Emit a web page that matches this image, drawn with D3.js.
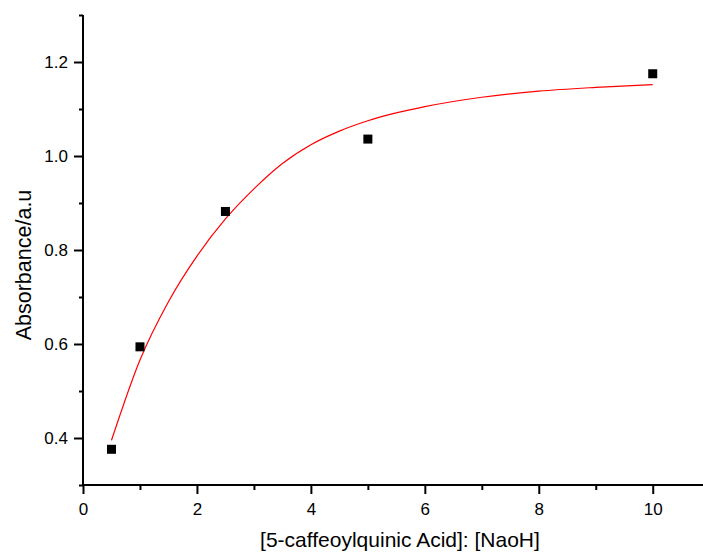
<!DOCTYPE html>
<html>
<head>
  <meta charset="utf-8">
  <style>
  body { margin: 0; background: #fff; }
  svg text { font-family: "Liberation Sans", Arial, sans-serif; fill: #000; }
  .fit { fill: none; stroke: #ff0000; stroke-width: 1.2px; }
  </style>
  <script src="https://d3js.org/d3.v7.min.js"></script>
</head>
<body>
<svg id="chart"></svg>
<script>
// measured points
var ratio = [0.5, 1, 2.5, 5, 10];
var absorbance = [0.376, 0.594, 0.882, 1.036, 1.175];

// fitted curve
var fitX = [0.5, 1, 1.5, 2, 2.5, 3, 3.5, 4, 4.5, 5, 6, 7, 8, 9, 10];
var fitY = [0.395, 0.566, 0.69, 0.787, 0.866, 0.93, 0.984, 1.024, 1.053, 1.075, 1.105, 1.125, 1.138, 1.146, 1.152];

var xMajor = [0, 2, 4, 6, 8, 10];
var xMinor = [1, 3, 5, 7, 9];
var yMajor = [0.4, 0.6, 0.8, 1.0, 1.2];
var yMinor = [0.3, 0.5, 0.7, 0.9, 1.1, 1.3];

var W = 703, H = 553;

var svg = d3.select("#chart")
    .attr("width", W)
    .attr("height", H);

var x = d3.scaleLinear().domain([0, 11]).range([83, 709.7]);
var y = d3.scaleLinear().domain([0.3, 1.3]).range([485, 15]);

// fit line first, then markers on top
var line = d3.line()
    .x(function(d) { return x(d[0]); })
    .y(function(d) { return y(d[1]); })
    .curve(d3.curveMonotoneX);

svg.append("path")
    .datum(fitX.map(function(v, i) { return [v, fitY[i]]; }))
    .attr("class", "fit")
    .attr("d", line);

var sq = 9;
svg.selectAll("rect.pt")
    .data(ratio)
  .enter().append("rect")
    .attr("class", "pt")
    .attr("x", function(d) { return x(d) - sq / 2; })
    .attr("y", function(d, i) { return y(absorbance[i]) - sq / 2; })
    .attr("width", sq)
    .attr("height", sq)
    .attr("fill", "#000");

// X axis
var xAxis = svg.append("g")
    .attr("transform", "translate(0," + y(0.3) + ")")
    .call(d3.axisBottom(x).tickValues(xMajor).tickSize(9).tickPadding(9)
      .tickFormat(d3.format("d")));
xAxis.append("g")
    .call(d3.axisBottom(x).tickValues(xMinor).tickSize(5).tickFormat(""));

// Y axis
var yAxis = svg.append("g")
    .attr("transform", "translate(" + x(0) + ",0)")
    .call(d3.axisLeft(y).tickValues(yMajor).tickSize(9).tickPadding(6)
      .tickFormat(d3.format(".1f")));
yAxis.append("g")
    .call(d3.axisLeft(y).tickValues(yMinor).tickSize(4).tickFormat(""));

svg.selectAll(".domain").attr("stroke", "#000").attr("stroke-width", 2);
svg.selectAll(".tick line").attr("stroke", "#000").attr("stroke-width", 2);
svg.selectAll(".tick text").style("font-size", "17px").attr("fill", "#000");
// plain axis lines without end caps
xAxis.selectAll(".domain").attr("d", "M" + (x(0) - 1) + ",0H" + W);
yAxis.selectAll(".domain").attr("d", "M0," + y(1.3) + "V" + (y(0.3) + 1));

// titles
svg.append("text")
    .attr("x", 400)
    .attr("y", 547)
    .attr("text-anchor", "middle")
    .style("font-size", "21px")
    .text("[5-caffeoylquinic Acid]: [NaoH]");

svg.append("text")
    .attr("transform", "translate(31,265) rotate(-90)")
    .attr("text-anchor", "middle")
    .style("font-size", "21.5px")
    .text("Absorbance/a.u");
</script>
</body>
</html>
